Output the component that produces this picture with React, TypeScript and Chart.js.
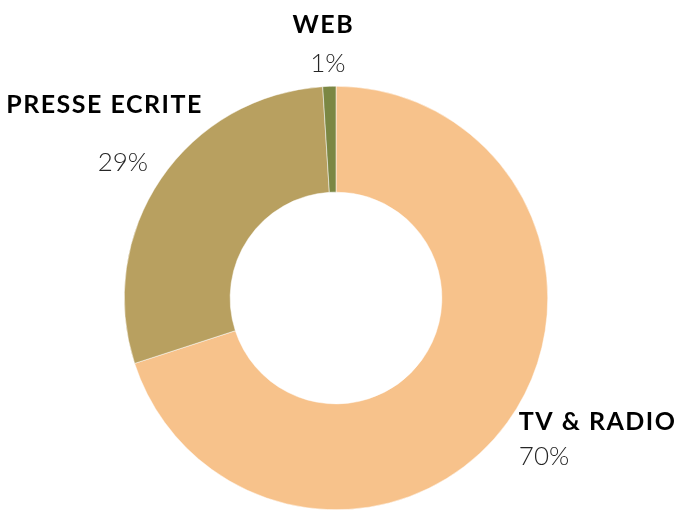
import React, { useEffect, useRef } from "react";
import { Chart, registerables } from "chart.js";

Chart.register(...registerables);

const categories = ["TV & RADIO", "PRESSE ECRITE", "WEB"];
const values = [70, 29, 1];
const colors = ["#F7C28B", "#B8A060", "#7B8743"];

// label placement relative to each slice's outer mid point (style only)
const labelStyle = [
  { nameAlign: "left", nameDx: 11.5, nameDy: 7.5, pctAlign: "left", pctDx: 11.5, pctDy: 42.5 },
  { nameAlign: "right", nameDx: 42, nameDy: -66, pctAlign: "center", pctDx: -38, pctDy: -8 },
  { nameAlign: "center", nameDx: -6, nameDy: -53, pctAlign: "center", pctDx: -1.5, pctDy: -14 },
];

const labelPlugin = {
  id: "outerLabels",
  afterDatasetsDraw(chart: any) {
    const ctx = chart.ctx;
    const meta = chart.getDatasetMeta(0);
    const total = values.reduce((a, b) => a + b, 0);
    meta.data.forEach((arc: any, i: number) => {
      const p = arc.getProps(["x", "y", "startAngle", "endAngle", "outerRadius"], true);
      const mid = (p.startAngle + p.endAngle) / 2;
      const px = p.x + Math.cos(mid) * p.outerRadius;
      const py = p.y + Math.sin(mid) * p.outerRadius;
      const s = labelStyle[i];
      ctx.save();
      ctx.textBaseline = "alphabetic";
      ctx.fillStyle = "#000000";
      ctx.font = "bold 25px Lato";
      (ctx as any).letterSpacing = "1.5px";
      ctx.textAlign = s.nameAlign;
      ctx.fillText(categories[i], px + s.nameDx, py + s.nameDy);
      ctx.fillStyle = "#262626";
      ctx.font = "300 26px Lato";
      (ctx as any).letterSpacing = "0px";
      ctx.textAlign = s.pctAlign;
      ctx.fillText(Math.round((values[i] / total) * 100) + "%", px + s.pctDx, py + s.pctDy);
      ctx.restore();
    });
  },
};

export default function App() {
  const ref = useRef<HTMLCanvasElement>(null);
  useEffect(() => {
    if (!ref.current) return;
    const chart = new Chart(ref.current, {
      type: "doughnut",
      data: {
        labels: categories,
        datasets: [
          {
            data: values,
            backgroundColor: colors,
            borderColor: "#ffffff",
            borderWidth: 0.5,
          },
        ],
      },
      options: {
        responsive: false,
        animation: false,
        cutout: "50%",
        layout: { padding: { top: 86, bottom: -2, left: 124, right: 127 } },
        plugins: {
          legend: { display: false },
          tooltip: { enabled: false },
        },
      },
      plugins: [labelPlugin],
    });
    return () => chart.destroy();
  }, []);
  return (
    <div style={{ position: "fixed", left: 0, top: 0, width: 675, height: 510, background: "#fff" }}>
      <canvas ref={ref} width={675} height={510} style={{ display: "block" }} />
    </div>
  );
}
